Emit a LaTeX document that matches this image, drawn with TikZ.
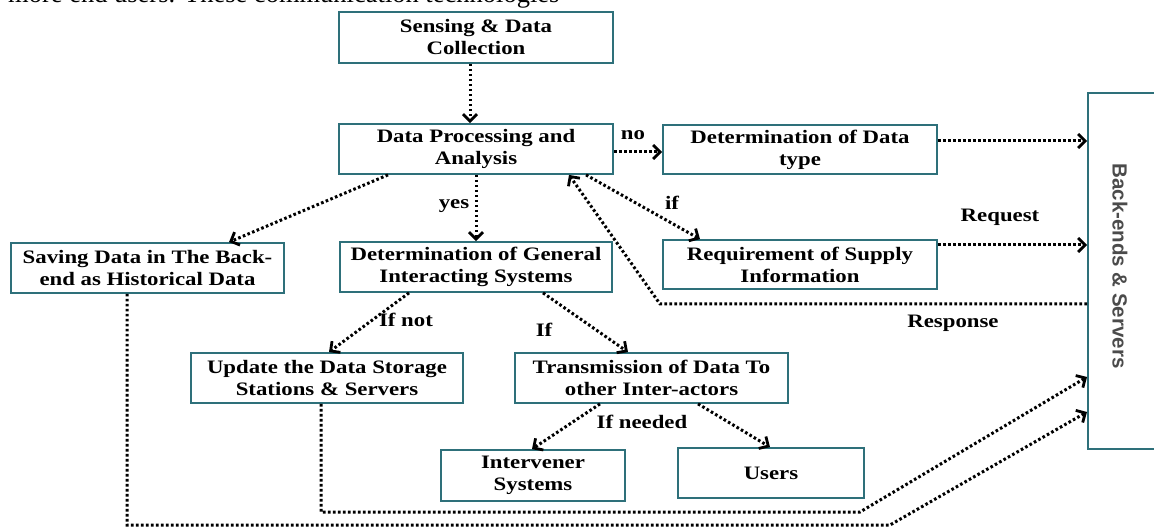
\documentclass[tikz,border=0pt]{standalone}
\usepackage{fontspec}
\setmainfont{Liberation Serif}[FakeStretch=1.2]
\newfontfamily\plainserif{Liberation Serif}
\newfontfamily\backfont{Liberation Sans}
\usetikzlibrary{arrows.meta,calc}
\definecolor{boxteal}{RGB}{46,112,122}
\definecolor{backtext}{RGB}{75,75,75}
\tikzset{
  box/.style={draw=boxteal, line width=1.8pt, fill=white, align=center,
    font=\fontsize{19}{22}\selectfont\bfseries, inner sep=0pt},
  conn/.style={line width=3pt, dash pattern=on 2.6pt off 2.4pt,
    -{Straight Barb[length=7pt,width=14pt,line width=2.8pt]}},
  lbl/.style={font=\fontsize{19}{22}\selectfont\bfseries, inner sep=0pt}
}
\begin{document}
\begin{tikzpicture}[x=1pt,y=-1pt]
\useasboundingbox (0,0) rectangle (1154,529);
\clip (0,0) rectangle (1154,529);

\node[font=\plainserif\fontsize{26.5}{30}\selectfont, anchor=base west, inner sep=0pt] (toptext) at (8,3) {more end users. These communication technologies};

\node[box, minimum width=274pt, minimum height=51pt] (sense) at (476,37.5) {Sensing \& Data\\Collection};
\node[box, minimum width=274pt, minimum height=50pt] (proc) at (476,149) {Data Processing and\\Analysis};
\node[box, minimum width=274pt, minimum height=49pt] (dtype) at (800,149.5) {Determination of Data\\type};
\node[box, minimum width=274pt, minimum height=49pt] (req) at (800,264.5) {Requirement of Supply\\Information};
\node[box, minimum width=83pt, minimum height=356pt, anchor=north west] (back) at (1087,92) {};
\node[font=\backfont\bfseries\fontsize{20.5}{24}\selectfont, text=backtext, rotate=-90, inner sep=0pt] (backlbl) at (1120,266) {Back-ends \& Servers};
\node[box, minimum width=273pt, minimum height=50pt] (save) at (147.5,268) {Saving Data in The Back-\\end as Historical Data};
\node[box, minimum width=272pt, minimum height=50pt] (gen) at (476,267) {Determination of General\\Interacting Systems};
\node[box, minimum width=272pt, minimum height=50pt] (upd) at (327,378) {Update the Data Storage\\Stations \& Servers};
\node[box, minimum width=273pt, minimum height=50pt] (trans) at (651.5,378) {Transmission of Data To\\other Inter-actors};
\node[box, minimum width=184pt, minimum height=51pt] (interv) at (533,475.5) {Intervener\\Systems};
\node[box, minimum width=186pt, minimum height=50pt] (users) at (771,473) {Users};

% connectors
\draw[conn] ([xshift=-6pt]sense.south) -- ([xshift=-6pt]proc.north);
\draw[conn] ([yshift=-3pt]proc.east) -- ([yshift=-2.5pt]dtype.west);
\node[lbl] (lno) at (633,135) {no};
\path ([yshift=8.5pt]dtype.east) coordinate (a1);
\draw[conn] (a1) -- (a1 -| back.west);
\draw[conn] ([xshift=110pt]proc.south) -- ([xshift=-100pt]req.north);
\node[lbl] (lif) at (672,203) {if};
\path ([yshift=19.5pt]req.east) coordinate (a2);
\draw[conn] (a2) -- (a2 -| back.west);
\node[lbl] (lreq) at (1000,217) {Request};
\coordinate (rb) at (660,304);
\draw[conn] (back.west |- rb) -- (rb) -- ([xshift=93pt]proc.south);
\node[lbl] (lresp) at (953,323) {Response};
\draw[conn] ([xshift=-88pt]proc.south) -- ([xshift=81.5pt]save.north);
\draw[conn] (proc.south) -- (gen.north);
\node[lbl] (lyes) at (454,206) {yes};
\draw[conn] ([xshift=-67pt]gen.south) -- ([xshift=2pt]upd.north);
\node[lbl] (lifnot) at (406,320) {If not};
\draw[conn] ([xshift=67pt]gen.south) -- ([xshift=-23.5pt]trans.north);
\node[lbl] (lif2) at (544,330) {If};
\draw[conn] ([xshift=-51.5pt]trans.south) -- ([xshift=-1pt]interv.north);
\node[lbl] (lneed) at (642,422) {If needed};
\draw[conn] ([xshift=46.5pt]trans.south) -- ([xshift=-1pt]users.north);
\coordinate (s1) at (127,525);
\coordinate (s2) at (890,525);
\coordinate (s3) at (1087,412);
\draw[conn] (save.south -| s1) -- (s1) -- (s2) -- (back.west |- s3);
\coordinate (u1) at (321,512);
\coordinate (u2) at (860,512);
\coordinate (u3) at (1087,377);
\draw[conn] (upd.south -| u1) -- (u1) -- (u2) -- (back.west |- u3);
\end{tikzpicture}
\end{document}
